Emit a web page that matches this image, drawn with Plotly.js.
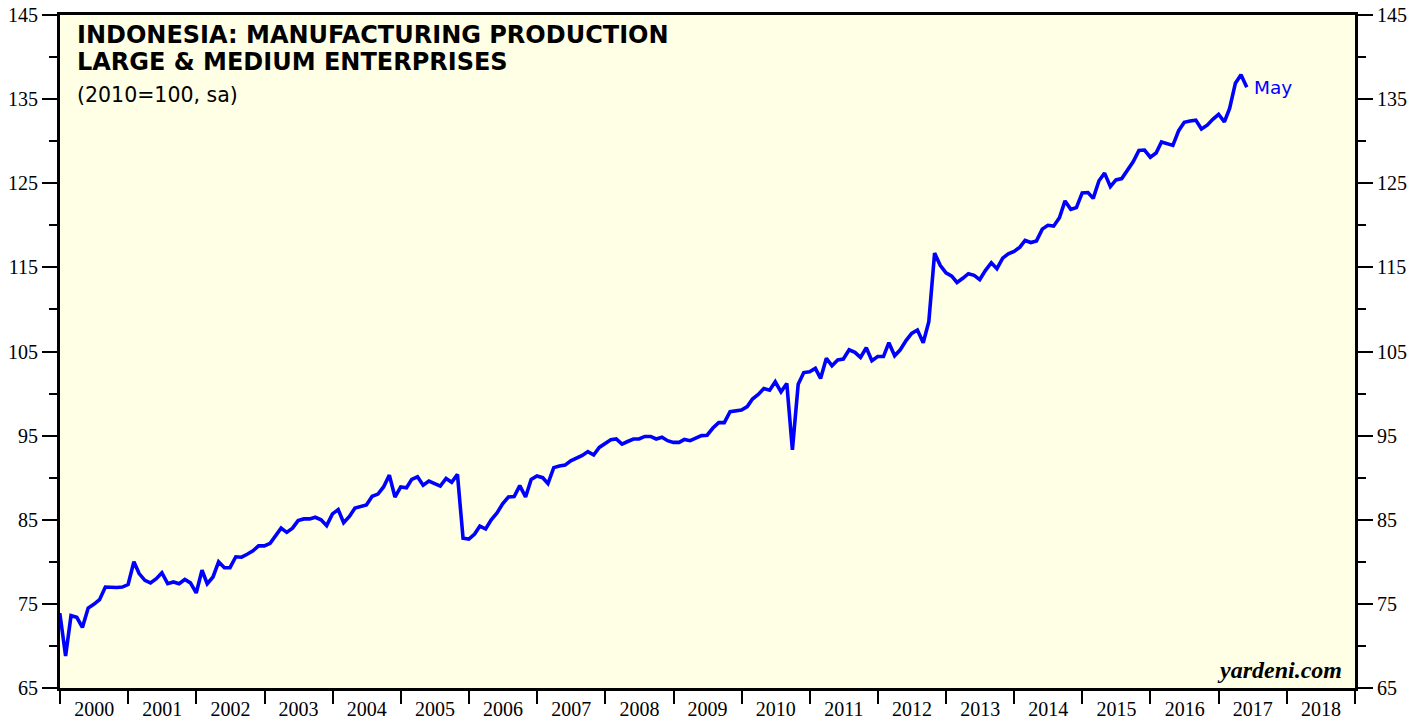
<!DOCTYPE html>
<html>
<head>
<meta charset="utf-8">
<script src="https://cdn.plot.ly/plotly-3.0.1.min.js"></script>
<style>
  html, body { margin: 0; padding: 0; background: #ffffff; }
  #chart { width: 1426px; height: 719px; }
</style>
</head>
<body>
<div id="chart"></div>
<script>
// Monthly series, first value = Dec 1999, last value = May 2017 (index 2010=100, sa)
const startYear = 1999;
const startMonth = 12;
const productionIndex = [
  73.9,
  68.8, 73.6, 73.4, 72.2, 74.5, 74.95, 75.5, 77.0, 76.95, 76.95, 77.0, 77.3,
  80.0, 78.6, 77.8, 77.5, 78.0, 78.7, 77.4, 77.6, 77.4, 77.9, 77.5, 76.3,
  79.0, 77.4, 78.2, 80.0, 79.3, 79.3, 80.6, 80.55, 80.9, 81.3, 81.9, 81.9,
  82.2, 83.1, 84.0, 83.5, 84.0, 84.9, 85.1, 85.1, 85.3, 85.0, 84.3, 85.7,
  86.2, 84.65, 85.4, 86.4, 86.6, 86.75, 87.8, 88.05, 88.9, 90.3, 87.7, 88.9,
  88.8, 89.8, 90.1, 89.1, 89.6, 89.3, 89.0, 89.9, 89.45, 90.4, 82.8, 82.7,
  83.3, 84.25, 83.9, 85.0, 85.8, 86.9, 87.7, 87.75, 89.05, 87.7, 89.8, 90.2,
  90.0, 89.3, 91.2, 91.4, 91.5, 92.0, 92.3, 92.65, 93.1, 92.7, 93.6, 94.1,
  94.5, 94.6, 94.0, 94.3, 94.6, 94.6, 94.9, 94.9, 94.6, 94.8, 94.4, 94.2,
  94.2, 94.55, 94.4, 94.7, 95.0, 95.05, 95.9, 96.55, 96.55, 97.85, 97.9, 98.05,
  98.45, 99.35, 99.9, 100.6, 100.4, 101.4, 100.2, 101.2, 93.3, 101.1, 102.5, 102.6,
  103.0, 101.8, 104.2, 103.3, 104.0, 104.1, 105.2, 104.9, 104.3, 105.45, 103.9, 104.4,
  104.4, 106.05, 104.5, 105.2, 106.3, 107.15, 107.55, 106.05, 108.55, 116.7, 115.25, 114.35,
  113.95, 113.2, 113.7, 114.25, 114.05, 113.55, 114.65, 115.55, 114.85, 116.1, 116.6, 116.9,
  117.4, 118.2, 117.95, 118.15, 119.55, 120.0, 119.9, 120.9, 122.9, 121.9, 122.1, 123.85,
  123.9, 123.2, 125.3, 126.2, 124.6, 125.4, 125.55, 126.6, 127.55, 128.9, 128.95, 128.1,
  128.6, 129.9, 129.7, 129.5, 131.25, 132.25, 132.4, 132.5, 131.45, 131.9, 132.6, 133.2,
  132.3, 133.9, 136.9, 137.9, 136.4
];
const lastLabel = "May";
const titleLine1 = "INDONESIA: MANUFACTURING PRODUCTION";
const titleLine2 = "LARGE & MEDIUM ENTERPRISES";
const subtitle = "(2010=100, sa)";
const source = "yardeni.com";

// month-end dates for each value
function pad(n) { return (n < 10 ? "0" : "") + n; }
const dates = productionIndex.map((_, k) => {
  const d = new Date(Date.UTC(startYear, startMonth - 1 + k + 1, 0));
  return d.getUTCFullYear() + "-" + pad(d.getUTCMonth() + 1) + "-" + pad(d.getUTCDate());
});

const serifTick = { family: "'Liberation Serif', 'Times New Roman', serif", size: 20, color: "#000" };

const trace = {
  x: dates,
  y: productionIndex,
  type: "scatter",
  mode: "lines",
  line: { color: "#0000ff", width: 3.6 },
  hoverinfo: "x+y"
};
const ghost = {
  x: [dates[0]], y: [productionIndex[0]], yaxis: "y2", type: "scatter", mode: "lines",
  line: { width: 0 }, showlegend: false, hoverinfo: "skip"
};

const yCommon = {
  range: [65, 145],
  tick0: 65, dtick: 10,
  ticks: "outside", ticklen: 15, tickwidth: 2, tickcolor: "#000",
  minor: { dtick: 5, tick0: 65, ticks: "outside", ticklen: 8, tickwidth: 2, tickcolor: "#000", showgrid: false },
  showgrid: false, zeroline: false,
  showline: true, linewidth: 3, linecolor: "#000",
  tickfont: serifTick,
  fixedrange: true
};

const layout = {
  width: 1426, height: 719,
  margin: { l: 60, r: 71, t: 15, b: 31 },
  paper_bgcolor: "#ffffff",
  plot_bgcolor: "#ffffe6",
  showlegend: false,
  xaxis: {
    type: "date",
    range: ["2000-01-01", "2019-01-01"],
    tick0: "2000-01-01", dtick: "M12",
    tickformat: "%Y",
    ticklabelmode: "period",
    ticks: "outside", ticklen: 13, tickwidth: 2, tickcolor: "#000",
    ticklabelstandoff: -12,
    showgrid: false, zeroline: false,
    showline: true, linewidth: 3, linecolor: "#000", mirror: true,
    tickfont: serifTick,
    fixedrange: true
  },
  yaxis: Object.assign({}, yCommon, { side: "left" }),
  yaxis2: Object.assign({}, yCommon, { side: "right", overlaying: "y", matches: "y" }),
  annotations: [
    { xref: "paper", yref: "paper", x: 0.0116, y: 0.970, xanchor: "left", yanchor: "middle",
      text: "<b>" + titleLine1 + "</b>", showarrow: false,
      font: { family: "DejaVu Sans, Arial, sans-serif", size: 24, color: "#000" } },
    { xref: "paper", yref: "paper", x: 0.0116, y: 0.930, xanchor: "left", yanchor: "middle",
      text: "<b>" + titleLine2 + "</b>", showarrow: false,
      font: { family: "DejaVu Sans, Arial, sans-serif", size: 24, color: "#000" } },
    { xref: "paper", yref: "paper", x: 0.0116, y: 0.881, xanchor: "left", yanchor: "middle",
      text: subtitle, showarrow: false,
      font: { family: "DejaVu Sans, Arial, sans-serif", size: 20.5, color: "#000" } },
    { xref: "x", yref: "y", x: dates[dates.length - 1], y: productionIndex[productionIndex.length - 1],
      xanchor: "left", yanchor: "middle", xshift: 5,
      text: lastLabel, showarrow: false,
      font: { family: "DejaVu Sans, Arial, sans-serif", size: 18.5, color: "#0000ff" } },
    { xref: "paper", yref: "paper", x: 0.9915, y: 0.005, xanchor: "right", yanchor: "bottom",
      text: "<b><i>" + source + "</i></b>", showarrow: false,
      font: { family: "'Liberation Serif', 'Times New Roman', serif", size: 24, color: "#000" } }
  ]
};

Plotly.newPlot("chart", [trace, ghost], layout, { displayModeBar: false, staticPlot: true });
</script>
</body>
</html>
